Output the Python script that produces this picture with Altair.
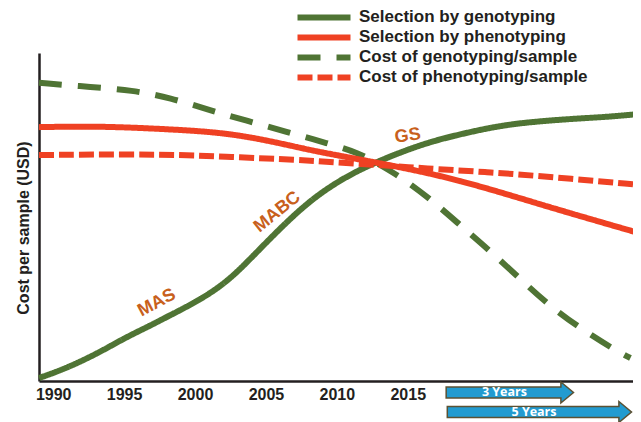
import altair as alt
import pandas as pd

SERIES = ["Selection by genotyping", "Selection by phenotyping",
          "Cost of genotyping/sample", "Cost of phenotyping/sample"]
TICKS = [1990, 1995, 2000, 2005, 2010, 2015]

sel_geno_year = [1989.0, 1991.0, 1993.3, 1994.9, 1996.8, 1998.0, 2000.35, 2002.25,
                 2003.9, 2006.0, 2008.3, 2010.7, 2012.8, 2014.9, 2016.6, 2018.2,
                 2020.6, 2022.9, 2026.4, 2029.05, 2031.3]
sel_geno_val = [0.9, 4.0, 8.8, 12.8, 16.8, 19.5, 24.7, 30.2,
                37.2, 46.6, 55.8, 62.5, 66.8, 70.4, 72.9, 74.7,
                77.1, 78.7, 79.9, 80.5, 81.4]

sel_pheno_year = [1989.0, 1993.3, 1998.0, 2002.7, 2007.2, 2008.8, 2011.8, 2016.6,
                  2020.6, 2025.2, 2031.3]
sel_pheno_val = [77.4, 77.7, 76.8, 75.6, 71.3, 69.8, 67.4, 63.4, 58.8, 52.7, 45.1]

cost_geno_year = [1989.0, 1992.8, 1995.5, 1998.3, 2001.0, 2003.7, 2006.5, 2009.0,
                  2011.6, 2012.9, 2014.4, 2016.6, 2018.75, 2020.9, 2023.0, 2025.0,
                  2027.35, 2029.75, 2030.7]
cost_geno_val = [90.9, 89.6, 88.7, 86.3, 82.6, 79.3, 75.9, 72.9,
                 69.5, 66.2, 62.5, 55.5, 47.3, 39.3, 30.8, 22.9,
                 15.5, 9.1, 7.0]

cost_pheno_year = [1989.0, 1998.0, 2002.5, 2007.4, 2009.5, 2014.2, 2015.9, 2020.6,
                   2025.2, 2031.3]
cost_pheno_val = [68.9, 69.2, 68.3, 67.4, 66.8, 65.5, 64.9, 63.7, 62.2, 59.8]

ann_label = ["MAS", "MABC", "GS"]
ann_year = [1997.3, 2005.8, 2015.0]
ann_value = [23.8, 51.5, 74.7]

arrow_label = ["3 Years", "5 Years"]
arrow_start = [2017.76, 2017.84]
arrow_end = [2025.87, 2029.96]
arrow_value = [-3.5, -9.45]

GREEN = "#4f7434"
RED = "#ef4123"
ORANGE = "#c8601c"
DARK = "#231f20"
ARROW_FILL = "#229bd0"
ARROW_EDGE = "#5b5133"
FONT = "Liberation Sans"

rows = []
for name, ys, vs in [(SERIES[2], cost_geno_year, cost_geno_val),
                     (SERIES[0], sel_geno_year, sel_geno_val),
                     (SERIES[3], cost_pheno_year, cost_pheno_val),
                     (SERIES[1], sel_pheno_year, sel_pheno_val)]:
    for i, (yr, v) in enumerate(zip(ys, vs)):
        rows.append({"series": name, "year": yr, "value": v, "order": i})
lines_df = pd.DataFrame(rows)


def X(field):
    return alt.X(f"{field}:Q",
                 scale=alt.Scale(domain=[1989, 2030.88], nice=False, zero=False),
                 axis=alt.Axis(values=TICKS, format="d", ticks=False, grid=False,
                               domainColor=DARK, domainWidth=2.5,
                               labelFont=FONT, labelFontWeight="bold", labelFontSize=16,
                               labelColor=DARK, labelPadding=5, labelFlush=False,
                               labelOverlap=False),
                 title=None)


def Y(field):
    return alt.Y(f"{field}:Q",
                 scale=alt.Scale(domain=[0, 100], nice=False, zero=False),
                 axis=alt.Axis(labels=False, ticks=False, grid=False,
                               domainColor=DARK, domainWidth=2.5,
                               titleFont=FONT, titleFontWeight="bold", titleFontSize=16,
                               titleColor=DARK, titleAngle=270, titleBaseline="alphabetic",
                               titleAlign="center", titleX=-11, titleY=174.5),
                 title="Cost per sample (USD)")


LEG = alt.Legend(title=None, orient="none", legendX=255.5, legendY=-45.4,
                 symbolType="stroke", symbolSize=2809, symbolStrokeWidth=5,
                 clipHeight=19.7, rowPadding=0, padding=0, offset=0,
                 labelFont=FONT, labelFontWeight="bold", labelFontSize=17,
                 labelColor=DARK, labelOffset=5.5, labelLimit=400)

lines = alt.Chart(lines_df).mark_line(interpolate="basis").encode(
    x=X("year"),
    y=Y("value"),
    color=alt.Color("series:N", scale=alt.Scale(domain=SERIES, range=[GREEN, RED, GREEN, RED]),
                    legend=LEG),
    strokeDash=alt.StrokeDash("series:N",
                              scale=alt.Scale(domain=SERIES,
                                              range=[[1, 0], [1, 0], [23, 16], [15, 5]]),
                              legend=LEG),
    strokeWidth=alt.StrokeWidth("series:N", scale=alt.Scale(domain=SERIES, range=[6, 6, 6, 5]),
                                legend=None),
    order="order:Q",
)

arrow_df = pd.DataFrame({"label": arrow_label, "start": arrow_start,
                         "end": arrow_end, "value": arrow_value})
abase = alt.Chart(arrow_df)
edge = abase.mark_rule(color=ARROW_EDGE, strokeWidth=12.5, xOffset=-1.5).encode(
    x=X("start"), x2="end", y=Y("value"))
head = abase.mark_point(shape="M-0.1,-1L1.1,0L-0.1,1Z", size=441, filled=True,
                        color=ARROW_FILL, stroke=ARROW_EDGE, strokeWidth=1.5,
                        opacity=1).encode(x=X("end"), y=Y("value"))
inner = abase.mark_rule(color=ARROW_FILL, strokeWidth=9.5, x2Offset=1.5).encode(
    x=X("start"), x2="end", y=Y("value"))
atext = abase.transform_calculate(mid="(datum.start + datum.end) / 2").mark_text(
    font="Open Sans", fontWeight="bold", fontSize=12.5, color="white",
    align="center", baseline="middle").encode(x=X("mid"), y=Y("value"), text="label:N")

ann_df = pd.DataFrame({"label": ann_label, "year": ann_year, "value": ann_value})
angles = {"MAS": 332, "MABC": 321, "GS": 352}
ann_layers = []
for lab in ann_label:
    ann_layers.append(
        alt.Chart(ann_df).transform_filter(alt.datum.label == lab).mark_text(
            font=FONT, fontWeight="bold", fontSize=18, color=ORANGE,
            align="center", baseline="middle", angle=angles[lab]
        ).encode(x=X("year"), y=Y("value"), text="label:N")
    )

chart = alt.layer(lines, edge, head, inner, atext, *ann_layers).properties(
    width=594, height=328,
    padding={"left": 31, "top": 45, "right": 0, "bottom": 41},
    autosize=alt.AutoSizeParams(type="none"),
).configure_view(stroke="transparent")

chart.save("out.html", embed_options={"renderer": "svg", "actions": False})
